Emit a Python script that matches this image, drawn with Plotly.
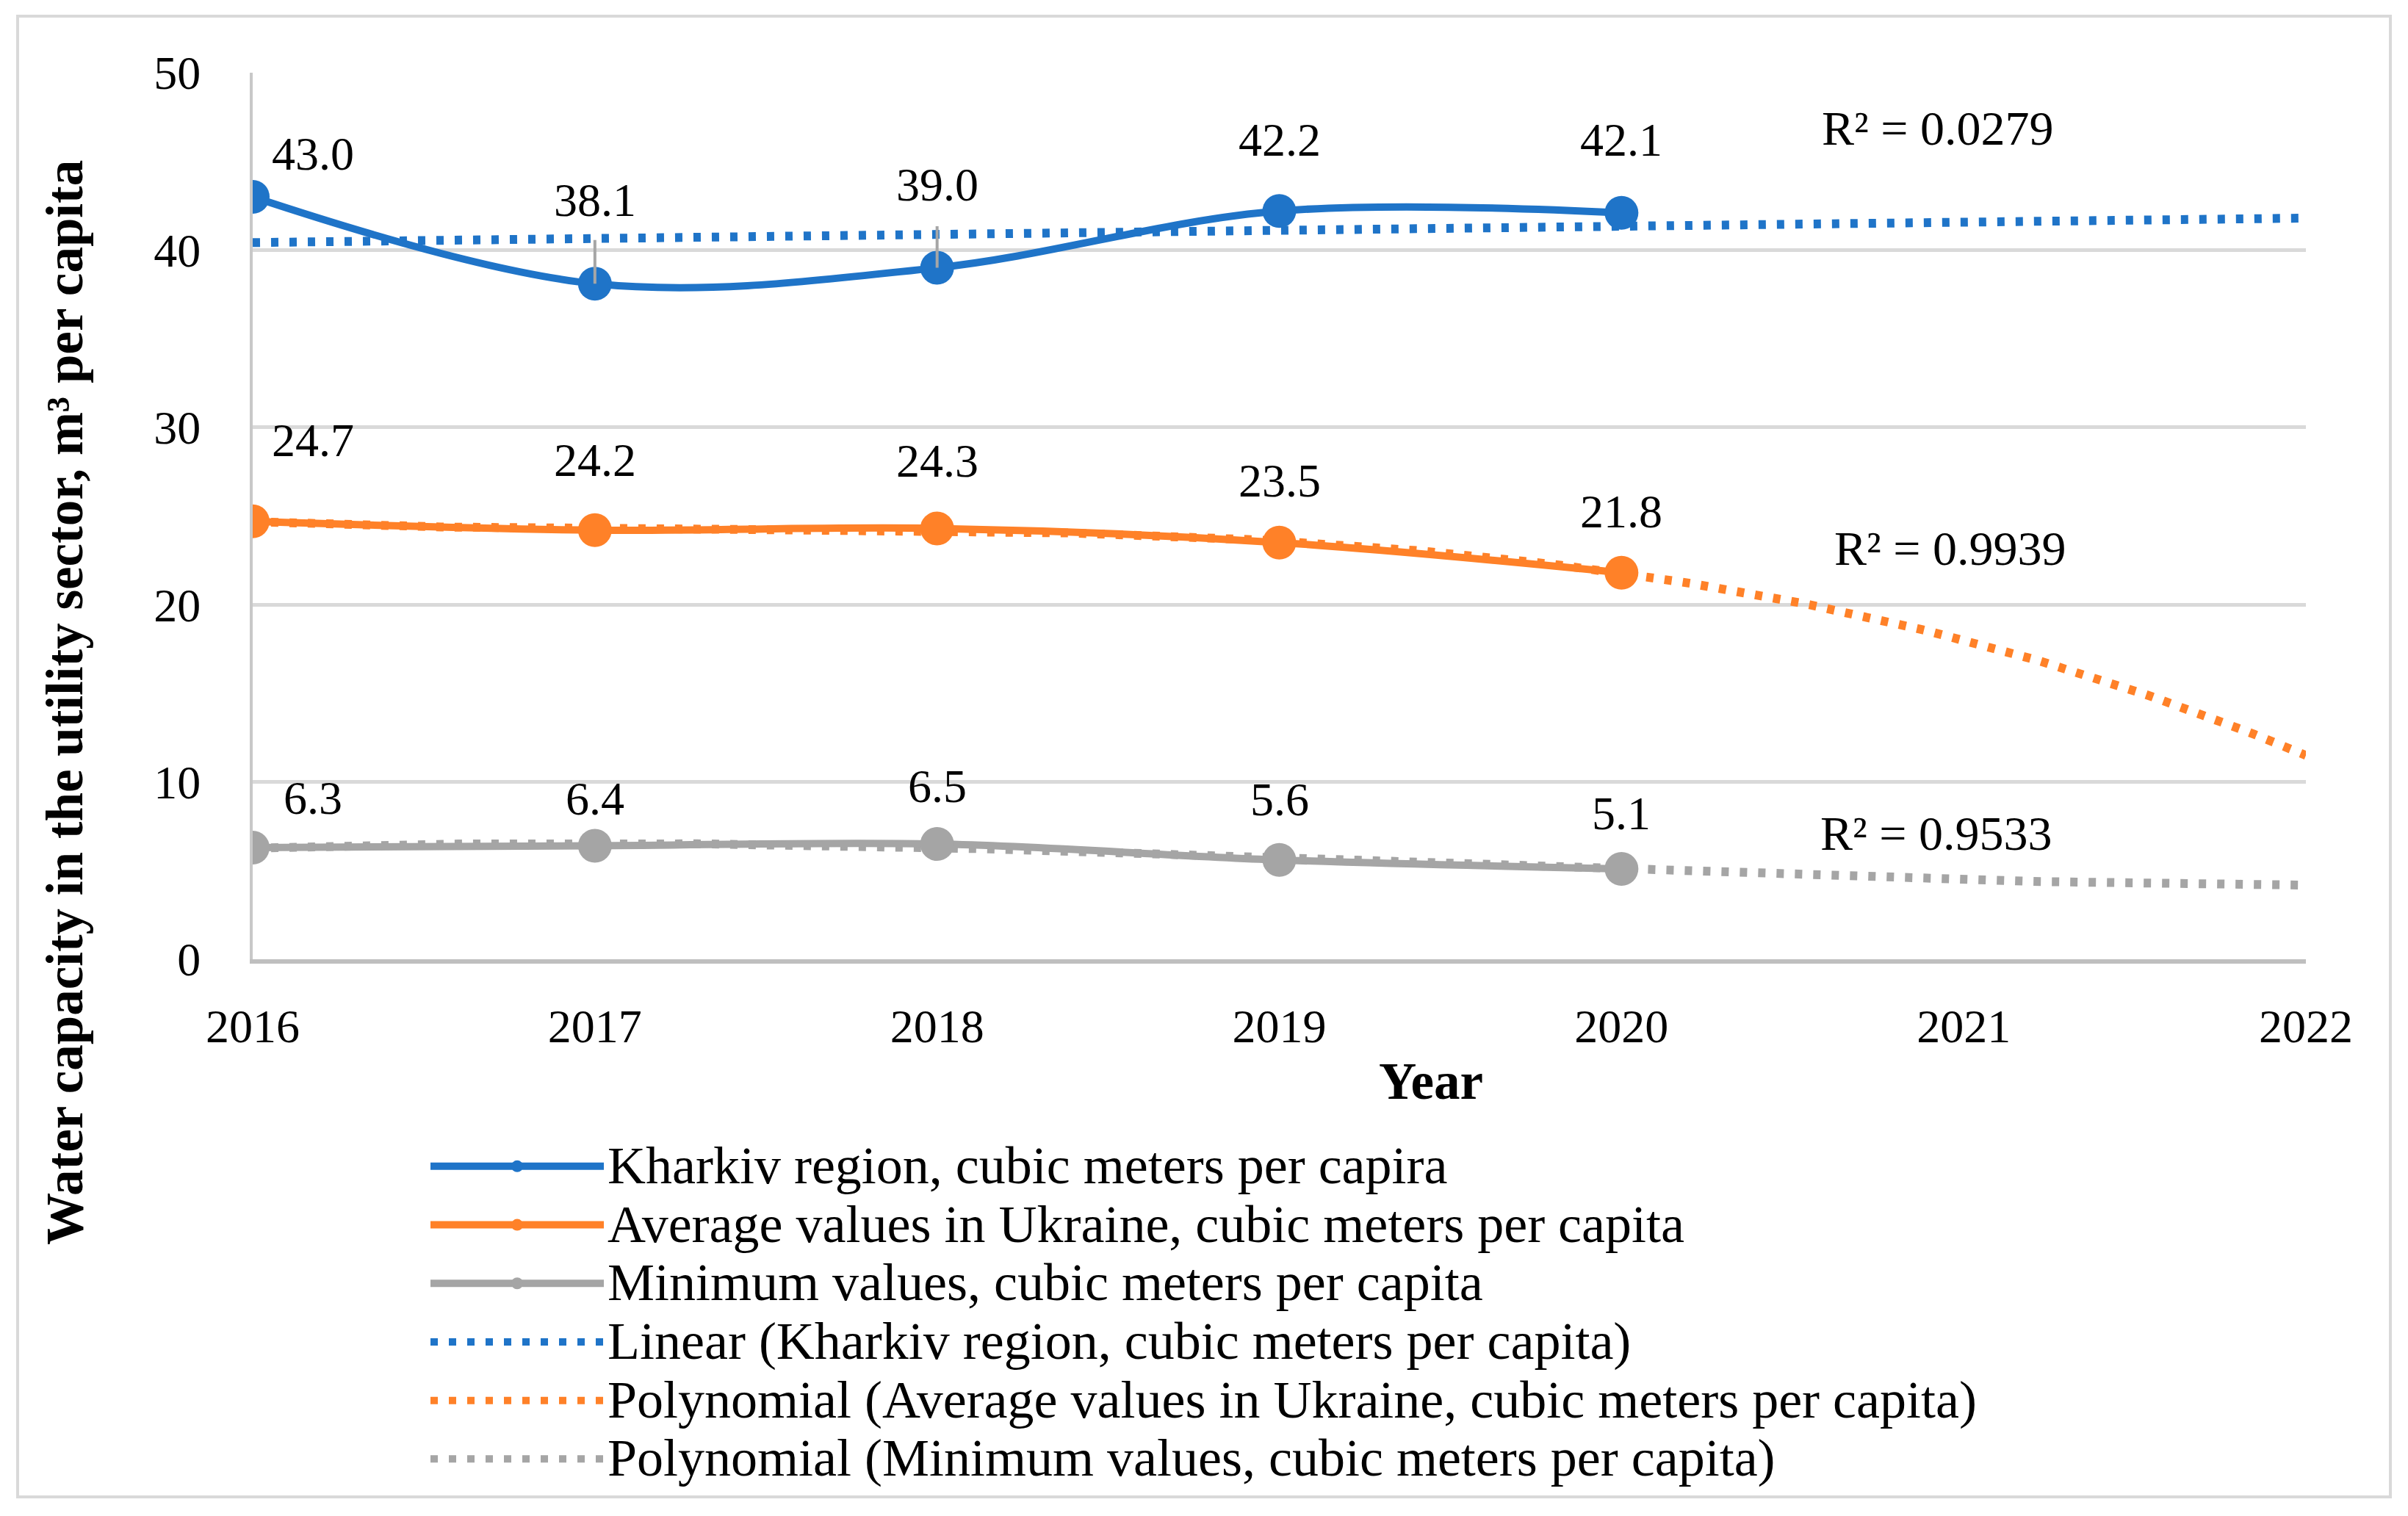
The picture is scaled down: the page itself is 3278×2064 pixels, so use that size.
import numpy as np
import plotly.graph_objects as go

# ---------------- data ----------------
years = [2016, 2017, 2018, 2019, 2020]
kharkiv = [43.0, 38.1, 39.0, 42.2, 42.1]
average = [24.7, 24.2, 24.3, 23.5, 21.8]
minimum = [6.3, 6.4, 6.5, 5.6, 5.1]
x_ticks = [2016, 2017, 2018, 2019, 2020, 2021, 2022]
y_ticks = [0, 10, 20, 30, 40, 50]
series_names = [
    "Kharkiv region, cubic meters per capira",
    "Average values in Ukraine, cubic meters per capita",
    "Minimum values, cubic meters per capita",
]
trend_names = [
    "Linear (Kharkiv region, cubic meters per capita)",
    "Polynomial (Average values in Ukraine, cubic meters per capita)",
    "Polynomial (Minimum values, cubic meters per capita)",
]
trend_degrees = [1, 3, 3]
r2_texts = ["R² = 0.0279", "R² = 0.9939", "R² = 0.9533"]

# ---------------- styles / layout ----------------
W, H = 3278, 2064
L, R, T, B = 344, 139, 99, 758
PW, PH = W - L - R, H - T - B
colors = ["#1F74C8", "#FF8128", "#A5A5A5"]
FONT = "Liberation Serif"
FS = 64
LEG_FS = 59
LEG_TEXT_FS = 72
TITLE_FS = 71

def px_to_paper(px, py):
    return (px - L) / PW, (H - B - py) / PH

def leg_name(s):
    return f'<span style="font-size:{LEG_TEXT_FS}px">{s}</span>'

# label offsets in px (dx, dy up)
label_offsets = [
    [(82, 58), (0, 114), (0, 113), (0, 97), (0, 99)],
    [(82, 110), (0, 95), (0, 92), (0, 84), (0, 83)],
    [(82, 67), (0, 64), (0, 79), (0, 82), (0, 75)],
]
# R2 label centre positions (px)
r2_pos = [(2638, 175), (2655, 746), (2636, 1134)]

fig = go.Figure()
all_series = [kharkiv, average, minimum]

# trendlines (drawn beneath)
xfit = np.linspace(x_ticks[0], x_ticks[-1], 241)
for i, (vals, deg) in enumerate(zip(all_series, trend_degrees)):
    xs = np.array(years, dtype=float) - years[0]
    coef = np.polyfit(xs, np.array(vals), deg)
    yfit = np.polyval(coef, xfit - years[0])
    fig.add_trace(go.Scatter(
        x=xfit, y=yfit, mode="lines", name=leg_name(trend_names[i]),
        line=dict(color=colors[i], width=12, dash="10px,15px"),
        legendrank=4 + i, hoverinfo="skip",
    ))

for i, vals in enumerate(all_series):
    fig.add_trace(go.Scatter(
        x=years, y=vals, mode="lines+markers", name=leg_name(series_names[i]),
        line=dict(color=colors[i], width=10, shape="spline", smoothing=1),
        marker=dict(color=colors[i], size=46, symbol="circle"),
        legendrank=1 + i,
    ))

annotations = []
for i, vals in enumerate(all_series):
    for j, v in enumerate(vals):
        dx, dy = label_offsets[i][j]
        annotations.append(dict(
            x=years[j], y=v, xref="x", yref="y", text=f"{v:.1f}",
            showarrow=False, xshift=dx, yshift=dy,
            xanchor="center", yanchor="middle",
            font=dict(family=FONT, size=FS, color="black"),
        ))

# leader lines for two moved labels
for j, ay in [(1, -61), (2, -58)]:
    annotations.append(dict(
        x=years[j], y=kharkiv[j], xref="x", yref="y", text="",
        showarrow=True, arrowhead=0, arrowwidth=4, arrowcolor="#A6A6A6",
        ax=0, ay=ay,
    ))

for txt, (px, py) in zip(r2_texts, r2_pos):
    xp, yp = px_to_paper(px, py)
    annotations.append(dict(
        x=xp, y=yp, xref="paper", yref="paper", text=txt, showarrow=False,
        xanchor="center", yanchor="middle",
        font=dict(family=FONT, size=66, color="black"),
    ))

# axis titles
xp, yp = px_to_paper(88, 957)
annotations.append(dict(
    x=xp, y=yp, xref="paper", yref="paper", textangle=-90,
    xanchor="center", yanchor="middle",
    text="<b>Water capacity in the utility sector, m³ per capita</b>",
    showarrow=False, font=dict(family=FONT, size=TITLE_FS, color="black"),
))
xp, yp = px_to_paper(1948, 1472)
annotations.append(dict(
    x=xp, y=yp, xref="paper", yref="paper", text="<b>Year</b>",
    xanchor="center", yanchor="middle",
    showarrow=False, font=dict(family=FONT, size=TITLE_FS, color="black"),
))

x0, y0 = px_to_paper(24, 2038)
x1, y1 = px_to_paper(3254, 22)

fig.update_layout(
    width=W, height=H,
    margin=dict(l=L, r=R, t=T, b=B, autoexpand=False),
    paper_bgcolor="white", plot_bgcolor="white",
    font=dict(family=FONT, size=FS, color="black"),
    showlegend=True,
    legend=dict(
        xref="container", yref="container",
        x=581 / W, y=1 - 1543 / H, xanchor="left", yanchor="top",
        font=dict(family=FONT, size=LEG_FS, color="black"),
        itemwidth=236, tracegroupgap=0, bgcolor="rgba(0,0,0,0)",
    ),
    annotations=annotations,
    shapes=[dict(type="rect", xref="paper", yref="paper",
                 x0=x0, y0=y0, x1=x1, y1=y1,
                 line=dict(color="#D9D9D9", width=4), layer="below")],
    xaxis=dict(
        range=[x_ticks[0], x_ticks[-1]], tickvals=x_ticks,
        ticktext=[str(t) for t in x_ticks], tickangle=0,
        showgrid=False, zeroline=False,
        showline=True, linecolor="#BFBFBF", linewidth=6,
        ticks="outside", ticklen=30, tickcolor="rgba(0,0,0,0)",
        tickfont=dict(family=FONT, size=FS, color="black"),
    ),
    yaxis=dict(
        range=[y_ticks[0], y_ticks[-1]], tickvals=y_ticks,
        showgrid=True, gridcolor="#D9D9D9", gridwidth=5,
        zeroline=False, showline=True, linecolor="#C8C8C8", linewidth=4,
        ticks="outside", ticklen=54, tickcolor="rgba(0,0,0,0)",
        tickfont=dict(family=FONT, size=FS, color="black"),
    ),
)

fig.write_html("out.html", config={"displayModeBar": False},
               post_script="document.body.style.margin='0';")
